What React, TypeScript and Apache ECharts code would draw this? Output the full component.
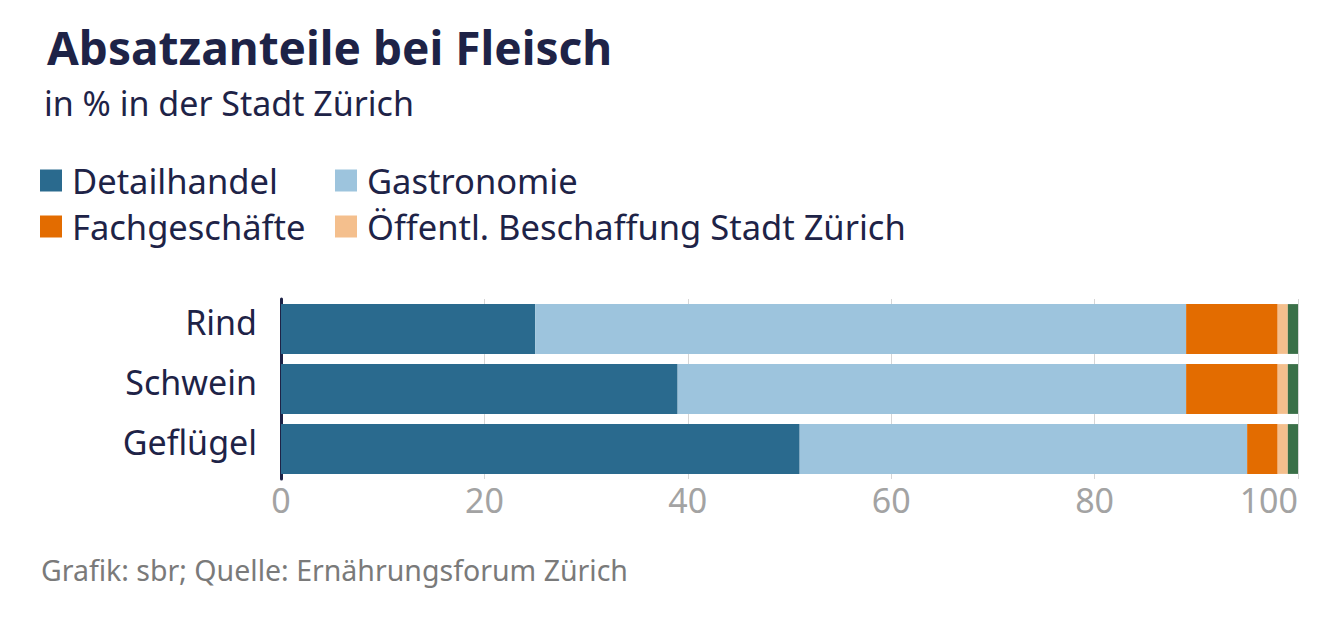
import React, { useEffect, useRef } from "react";
import * as echarts from "echarts";

const categories = ["Rind", "Schwein", "Geflügel"];
const seriesNames = [
  "Detailhandel",
  "Gastronomie",
  "Fachgeschäfte",
  "Öffentl. Beschaffung Stadt Zürich",
  "Übrige",
];
const detailhandel = [25, 39, 51];
const gastronomie = [64, 50, 44];
const fachgeschaefte = [9, 9, 3];
const oeffentlich = [1, 1, 1];
const uebrige = [1, 1, 1];
const seriesValues = [detailhandel, gastronomie, fachgeschaefte, oeffentlich, uebrige];
const seriesColors = ["#2a6a8e", "#9dc4dd", "#e36c00", "#f4bf8d", "#3a7048"];
const legendRow1 = ["Detailhandel", "Gastronomie"];
const legendRow2 = ["Fachgeschäfte", "Öffentl. Beschaffung Stadt Zürich"];
const xTicks = [0, 20, 40, 60, 80, 100];

const FONT = "Noto Sans";
const NAVY = "#1e2347";

export default function App() {
  const ref = useRef<HTMLDivElement>(null);
  useEffect(() => {
    document.body.style.margin = "0";
    const chart = echarts.init(ref.current!, null, { renderer: "svg" });
    const xTicksSet = new Set(xTicks);
    const legendBase = {
      left: 35,
      orient: "horizontal",
      itemWidth: 22,
      itemHeight: 22,
      itemGap: 13,
      icon: "rect",
      selectedMode: false,
      textStyle: {
        fontFamily: FONT,
        fontSize: 34.5,
        color: NAVY,
        width: 250,
        lineHeight: 33,
        padding: [0, 0, 0, 5],
      },
    };
    chart.setOption({
      animation: false,
      textStyle: { fontFamily: FONT },
      title: [
        {
          text: "Absatzanteile bei Fleisch",
          left: 42,
          top: 16,
          textStyle: { fontFamily: FONT, fontSize: 46, fontWeight: "bold", color: NAVY, lineHeight: 52 },
        },
        {
          text: "in % in der Stadt Zürich",
          left: 39,
          top: 78,
          textStyle: { fontFamily: FONT, fontSize: 34, fontWeight: "normal", color: NAVY, lineHeight: 40 },
        },
        {
          text: "Grafik: sbr; Quelle: Ernährungsforum Zürich",
          left: 36,
          top: 548,
          textStyle: { fontFamily: FONT, fontSize: 28.5, fontWeight: "normal", color: "#7a7a7a", lineHeight: 34 },
        },
      ],
      legend: [
        { ...legendBase, data: legendRow1, top: 158 },
        { ...legendBase, data: legendRow2, top: 204 },
      ],
      grid: { left: 281, right: 38, top: 299, height: 180 },
      xAxis: {
        type: "value",
        min: 0,
        max: 100,
        interval: 20,
        axisLine: { show: false },
        axisTick: { show: false },
        splitLine: { show: true, lineStyle: { color: "#d6d6d6", width: 1 } },
        axisLabel: {
          fontFamily: FONT,
          fontSize: 34,
          lineHeight: 34,
          color: "#a3a3a3",
          margin: 4,
          alignMaxLabel: "right",
          formatter: (v: number) => (xTicksSet.has(v) ? String(v) : ""),
        },
      },
      yAxis: {
        type: "category",
        data: categories,
        inverse: true,
        axisLine: { show: true, onZero: false, lineStyle: { color: NAVY, width: 3 } },
        axisTick: { show: false },
        axisLabel: {
          fontFamily: FONT,
          fontSize: 34,
          lineHeight: 14,
          verticalAlign: "bottom",
          color: NAVY,
          margin: 24,
        },
      },
      series: seriesNames.map((name, i) => ({
        name,
        type: "bar",
        stack: "total",
        data: seriesValues[i],
        barCategoryGap: "17%",
        itemStyle: { color: seriesColors[i] },
      })),
    });
    return () => chart.dispose();
  }, []);
  return <div ref={ref} style={{ width: 1336, height: 617 }} />;
}
